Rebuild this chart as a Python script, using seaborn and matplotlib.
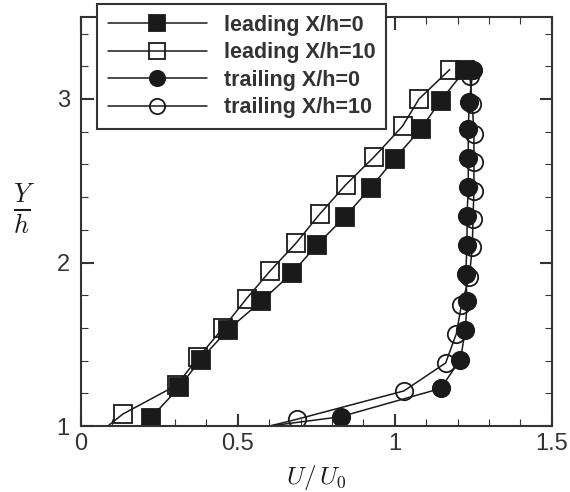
## encoding: utf-8
import matplotlib
matplotlib.use('Agg')
import matplotlib.pyplot as plt
import seaborn as sns
from matplotlib.ticker import MultipleLocator

sns.set_theme(style='ticks')
plt.rcParams['font.family'] = ['Liberation Sans', 'DejaVu Sans']
plt.rcParams['mathtext.fontset'] = 'cm'

# leading edge, X/h = 0
lead0_u = [0.222, 0.313, 0.381, 0.469, 0.575, 0.673, 0.753, 0.841, 0.923, 1.000, 1.082, 1.146, 1.223]
lead0_y = [1.049, 1.236, 1.407, 1.590, 1.764, 1.937, 2.110, 2.280, 2.457, 2.636, 2.815, 2.990, 3.175]

# leading edge, X/h = 10 (first point lies below the axis)
lead10_u = [0.040, 0.133, 0.305, 0.374, 0.453, 0.528, 0.602, 0.685, 0.761, 0.843, 0.934, 1.025, 1.077, 1.175]
lead10_y = [0.930, 1.073, 1.250, 1.420, 1.600, 1.780, 1.947, 2.118, 2.297, 2.474, 2.646, 2.835, 3.000, 3.180]

# trailing edge, X/h = 0
trail0_u = [0.400, 0.827, 1.146, 1.209, 1.225, 1.230, 1.226, 1.230, 1.230, 1.234, 1.234, 1.234, 1.237, 1.249]
trail0_y = [0.950, 1.057, 1.230, 1.407, 1.590, 1.764, 1.930, 2.110, 2.287, 2.460, 2.640, 2.815, 2.980, 3.175]

# trailing edge, X/h = 10
trail10_u = [0.495, 0.687, 1.029, 1.162, 1.196, 1.212, 1.237, 1.247, 1.249, 1.252, 1.252, 1.252, 1.247, 1.239]
trail10_y = [0.950, 1.041, 1.215, 1.386, 1.565, 1.738, 1.910, 2.093, 2.266, 2.439, 2.612, 2.788, 2.967, 3.140]

labels = ['leading X/h=0', 'leading X/h=10', 'trailing X/h=0', 'trailing X/h=10']

INK = '#1a1a1a'

fig = plt.figure(figsize=(5.7, 4.92), dpi=100)
ax = fig.add_axes([0.142, 0.134, 0.826, 0.831])

series = [
    (lead0_u, lead0_y, 's', INK),
    (lead10_u, lead10_y, 's', 'none'),
    (trail0_u, trail0_y, 'o', INK),
    (trail10_u, trail10_y, 'o', 'none'),
]
for (u, y, mk, fc), lab in zip(series, labels):
    sns.lineplot(x=u, y=y, sort=False, estimator=None, ax=ax, color=INK,
                 linewidth=1.1, marker=mk, markersize=12.5,
                 markerfacecolor=fc, markeredgecolor=INK, markeredgewidth=1.3,
                 label=lab)

ax.set_xlim(0, 1.5)
ax.set_ylim(1, 3.5)
ax.xaxis.set_minor_locator(MultipleLocator(0.1))
ax.yaxis.set_minor_locator(MultipleLocator(0.2))
ax.set_xticks([0, 0.5, 1, 1.5], ['0', '0.5', '1', '1.5'])
ax.set_yticks([1, 2, 3], ['1', '2', '3'])

ax.tick_params(which='both', direction='in', top=True, right=True, color='#333333')
ax.tick_params(which='major', length=9, width=1.5, labelsize=17, labelcolor='#333333')
ax.tick_params(axis='x', which='major', pad=5)
ax.tick_params(axis='y', which='major', pad=8)
ax.tick_params(which='minor', length=5, width=0.8)
for s in ax.spines.values():
    s.set_linewidth(1.5)
    s.set_color('#333333')

ax.set_xlabel('$U/\\,U_0$', fontsize=18, color=INK, labelpad=6)
ax.set_ylabel('$\\frac{Y}{h}$', fontsize=27, color=INK, rotation=0, va='center', ha='center')
ax.yaxis.set_label_coords(-0.121, 0.531)

leg = ax.legend(loc='upper left', bbox_to_anchor=(97 / 570, 1 - 4 / 492),
                bbox_transform=fig.transFigure, borderaxespad=0,
                fancybox=False, frameon=True, edgecolor='#333333',
                framealpha=1, handlelength=4.6, handletextpad=0.8,
                labelspacing=0.3, borderpad=0.5,
                prop={'family': 'Liberation Sans', 'weight': 'bold', 'size': 15.5})
leg.get_frame().set_linewidth(1.5)
leg.set_zorder(10)
for h in leg.legend_handles:
    h.set_markersize(11)
for t in leg.get_texts():
    t.set_color('#333333')

plt.savefig('out.png', dpi=100)
plt.close()
